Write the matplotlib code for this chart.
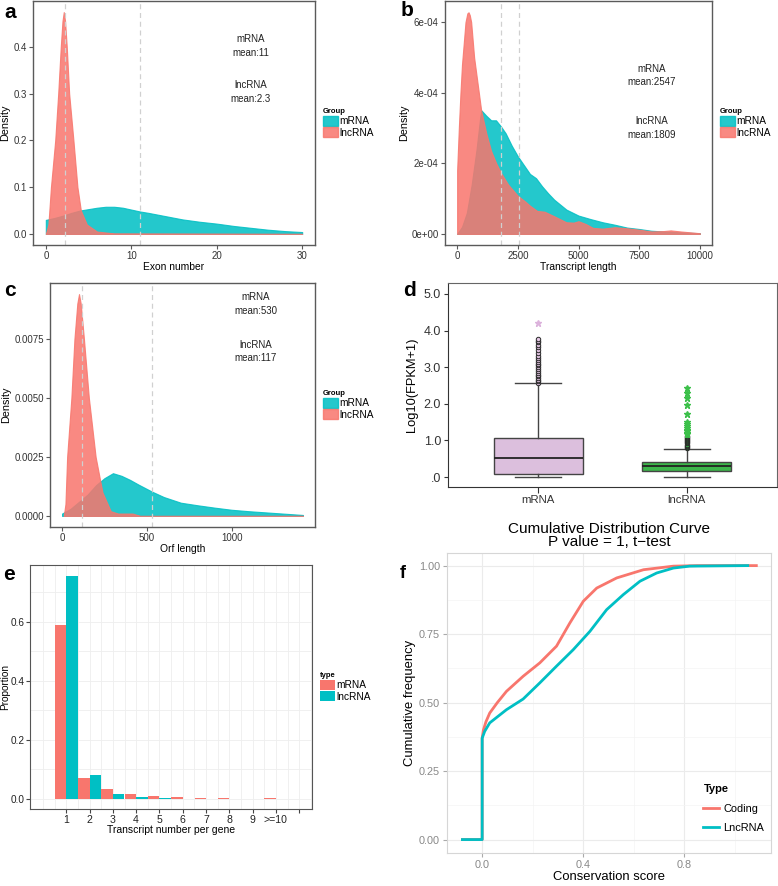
import matplotlib
matplotlib.use("Agg")
import matplotlib.pyplot as plt
from matplotlib.patches import Patch

plt.rcParams['font.family'] = ['Liberation Sans', 'DejaVu Sans']

RED = '#F8766D'
TEAL = '#00BFC4'

# ---- a: exon number density ----
exon_x_mrna = [0, 1, 2, 3, 4, 5, 6, 7, 8, 9, 10, 11, 12, 14, 16, 18, 20, 22, 24, 26, 28, 30]
exon_d_mrna = [0.030, 0.034, 0.039, 0.045, 0.050, 0.053, 0.056, 0.058, 0.058, 0.056, 0.052, 0.048, 0.045,
               0.038, 0.031, 0.026, 0.022, 0.017, 0.013, 0.009, 0.006, 0.004]
exon_x_lnc = [0, 0.3, 0.6, 0.85, 1.1, 1.45, 1.75, 1.95, 2.1, 2.25, 2.45, 2.73, 3.23, 3.7, 4.1, 4.8, 6.0, 8.0, 30]
exon_d_lnc = [0.0, 0.02, 0.10, 0.15, 0.20, 0.30, 0.40, 0.455, 0.474, 0.455, 0.40, 0.30, 0.20, 0.10, 0.05,
              0.02, 0.005, 0.001, 0.0]
exon_means = [11, 2.3]

# ---- b: transcript length density ----
len_x_mrna = [0, 200, 400, 600, 800, 950, 1000, 1200, 1400, 1600, 1800, 2000, 2250, 2500, 2750, 3000, 3250,
              3500, 3750, 4000, 4500, 5000, 5500, 6000, 6500, 7000, 7500, 8000, 9000, 10000]
len_d_mrna = [0, 0.2e-4, 0.6e-4, 1.4e-4, 2.4e-4, 3.3e-4, 3.5e-4, 3.35e-4, 3.22e-4, 3.22e-4, 3.05e-4, 2.85e-4,
              2.5e-4, 2.2e-4, 1.95e-4, 1.7e-4, 1.58e-4, 1.35e-4, 1.15e-4, 0.97e-4, 0.69e-4, 0.52e-4, 0.42e-4,
              0.33e-4, 0.26e-4, 0.18e-4, 0.14e-4, 0.09e-4, 0.05e-4, 0.02e-4]
len_x_lnc = [0, 70, 137, 200, 344, 420, 470, 520, 578, 700, 894, 990, 1200, 1400, 1610, 1815, 2100, 2500, 2800,
             3000, 3300, 3600, 4000, 4500, 4800, 5000, 5300, 5600, 6000, 6500, 7000, 7500, 8000, 8500, 8800,
             9200, 10000]
len_d_lnc = [1.8e-4, 3.0e-4, 4.0e-4, 4.8e-4, 6.0e-4, 6.25e-4, 6.28e-4, 6.2e-4, 6.0e-4, 5.0e-4, 4.0e-4, 3.5e-4,
             2.85e-4, 2.35e-4, 2.0e-4, 1.72e-4, 1.4e-4, 1.08e-4, 0.92e-4, 0.8e-4, 0.65e-4, 0.63e-4, 0.5e-4,
             0.33e-4, 0.32e-4, 0.36e-4, 0.28e-4, 0.17e-4, 0.15e-4, 0.19e-4, 0.16e-4, 0.12e-4, 0.07e-4, 0.08e-4,
             0.1e-4, 0.07e-4, 0.02e-4]
len_means = [2547, 1809]

# ---- c: orf length density ----
orf_x_mrna = [0, 50, 100, 150, 200, 250, 300, 350, 400, 450, 530, 600, 700, 800, 900, 1000, 1100, 1200, 1300, 1420]
orf_d_mrna = [0.0001, 0.0003, 0.0006, 0.0009, 0.0013, 0.0016, 0.00181, 0.0017, 0.00153, 0.00133, 0.00103,
              0.0008, 0.00056, 0.00045, 0.00035, 0.00026, 0.0002, 0.00015, 0.0001, 0.00004]
orf_x_lnc = [10, 20, 30, 45, 55, 73, 90, 100, 110, 129, 158, 198, 238, 287, 330, 416, 460, 1420]
orf_d_lnc = [0.0, 0.0005, 0.0025, 0.004, 0.005, 0.0075, 0.009, 0.0094, 0.009, 0.0075, 0.005, 0.0025, 0.001,
             0.0002, 0.0001, 0.0001, 0.0, 0.0]
orf_means = [530, 117]

# ---- d: expression boxplot ----
box_labels = ['mRNA', 'lncRNA']
box_lo = [0.0, 0.0]
box_q1 = [0.08, 0.18]
box_med = [0.53, 0.29]
box_q3 = [1.07, 0.42]
box_hi = [2.57, 0.78]
mrna_out_circ = [2.58, 2.62, 2.66, 2.70, 2.75, 2.80, 2.85, 2.90, 2.95, 3.00, 3.05, 3.10, 3.15, 3.20, 3.26,
                 3.32, 3.40, 3.48, 3.55, 3.62, 3.68, 3.73, 3.78]
mrna_out_star = [4.22]
lnc_out_circ = [0.80, 0.83, 0.86, 0.89, 0.92, 0.95, 0.98, 1.01, 1.04, 1.07, 1.10, 1.13]
lnc_out_star = [1.17, 1.21, 1.25, 1.29, 1.34, 1.40, 1.46, 1.51, 1.72, 1.98, 2.17, 2.30, 2.43]

# ---- e: transcripts per gene ----
tx_labels = ['1', '2', '3', '4', '5', '6', '7', '8', '9', '>=10', '']
tx_mrna = [0.59, 0.072, 0.033, 0.016, 0.009, 0.005, 0.003, 0.002, 0.0015, 0.002, 0]
tx_lnc = [0.756, 0.082, 0.017, 0.007, 0.003, 0.001, 0.0005, 0.0004, 0.0003, 0.0004, 0]

# ---- f: conservation CDF ----
cons_x_coding = [-0.078, 0.0, 0.0, 0.005, 0.015, 0.030, 0.060, 0.096, 0.162, 0.228, 0.294, 0.347, 0.40,
                 0.453, 0.532, 0.638, 0.756, 0.85, 1.084]
cons_y_coding = [0, 0, 0.37, 0.40, 0.43, 0.462, 0.50, 0.541, 0.596, 0.645, 0.706, 0.791, 0.870, 0.918, 0.955,
                 0.985, 0.998, 1.0, 1.0]
cons_x_lnc = [-0.078, 0.0, 0.0, 0.01, 0.03, 0.096, 0.162, 0.228, 0.294, 0.36, 0.426, 0.492, 0.558, 0.624,
              0.69, 0.756, 0.82, 1.05]
cons_y_lnc = [0, 0, 0.37, 0.395, 0.426, 0.474, 0.513, 0.572, 0.633, 0.693, 0.760, 0.839, 0.894, 0.943, 0.973,
              0.991, 0.998, 1.0]

W, H = 778, 886
fig = plt.figure(figsize=(W / 100, H / 100), dpi=100)


def rect(l, t, r, b):
    return [l / W, 1 - b / H, (r - l) / W, (b - t) / H]


def density_panel(pos, x_m, d_m, x_l, d_l, means, xlabel, xlim, ylim, xticks, yticks, yfmt, notes):
    ax = fig.add_axes(rect(*pos))
    ax.fill_between(x_m, d_m, color=TEAL, alpha=0.86, lw=0.8, edgecolor=TEAL)
    ax.fill_between(x_l, d_l, color=RED, alpha=0.86, lw=0.8, edgecolor=RED)
    for m in means:
        ax.axvline(m, color='#d0d0d0', ls=(0, (4, 3)), lw=0.9)
    ax.set_xlim(*xlim)
    ax.set_ylim(*ylim)
    ax.set_xticks(xticks)
    ax.set_yticks(yticks)
    ax.set_yticklabels([yfmt(v) for v in yticks])
    for s in ax.spines.values():
        s.set_color('#5a5a5a')
        s.set_linewidth(1.0)
    ax.tick_params(colors='#5a5a5a', labelcolor='#333333', labelsize=7, length=3, width=0.8, pad=1.5)
    ax.set_xlabel(xlabel, fontsize=7.4, labelpad=0.5)
    ax.set_ylabel('Density', fontsize=7.8, labelpad=2)
    for tx, ty, s in notes:
        ax.text(tx, ty, s, fontsize=7, ha='center', va='center', color='#222222')
    handles = [Patch(facecolor=TEAL, edgecolor=TEAL, alpha=0.86), Patch(facecolor=RED, edgecolor=RED, alpha=0.86)]
    ax.legend(handles, ['mRNA', 'lncRNA'], title='Group', loc='center left', bbox_to_anchor=(1.01, 0.5),
              frameon=False, fontsize=7.3, handlelength=1.5, handleheight=1.2, borderpad=0,
              labelspacing=0.05, handletextpad=0.15, alignment='left',
              title_fontproperties={'weight': 'bold', 'size': 5.5})
    return ax


density_panel((33, 1, 315, 245), exon_x_mrna, exon_d_mrna, exon_x_lnc, exon_d_lnc, exon_means,
              'Exon number', (-1.5, 31.5), (-0.0237, 0.4977), [0, 10, 20, 30], [0.0, 0.1, 0.2, 0.3, 0.4],
              lambda v: f'{v:.1f}',
              [(24, 0.417, 'mRNA'), (24, 0.387, 'mean:11'), (24, 0.318, 'lncRNA'), (24, 0.288, 'mean:2.3')])

density_panel((445, 1, 712, 245), len_x_mrna, len_d_mrna, len_x_lnc, len_d_lnc, len_means,
              'Transcript length', (-500, 10500), (-0.314e-4, 6.6e-4), [0, 2500, 5000, 7500, 10000],
              [0, 2e-4, 4e-4, 6e-4], lambda v: f'{v:.0e}' if v else '0e+00',
              [(8000, 4.68e-4, 'mRNA'), (8000, 4.31e-4, 'mean:2547'), (8000, 3.2e-4, 'lncRNA'),
               (8000, 2.8e-4, 'mean:1809')])

density_panel((50, 283, 315, 527), orf_x_mrna, orf_d_mrna, orf_x_lnc, orf_d_lnc, orf_means,
              'Orf length', (-71, 1491), (-0.00047, 0.00987), [0, 500, 1000],
              [0.0, 0.0025, 0.005, 0.0075], lambda v: f'{v:.4f}',
              [(1143, 0.00927, 'mRNA'), (1143, 0.0087, 'mean:530'), (1143, 0.00726, 'lncRNA'),
               (1143, 0.0067, 'mean:117')])

# ---- d ----
axd = fig.add_axes(rect(448, 283, 777, 487))
stats = []
for i in range(2):
    stats.append(dict(label=box_labels[i], whislo=box_lo[i], q1=box_q1[i], med=box_med[i],
                      q3=box_q3[i], whishi=box_hi[i], fliers=[]))
bp = axd.bxp(stats, positions=[1, 2], widths=0.6, capwidths=0.31, patch_artist=True, showfliers=False,
             boxprops=dict(edgecolor='#444444', linewidth=1.0),
             medianprops=dict(color='#222222', linewidth=1.3),
             whiskerprops=dict(color='#444444', linewidth=1.0),
             capprops=dict(color='#444444', linewidth=1.0))
bp['boxes'][0].set_facecolor('#dcbfdd')
bp['boxes'][1].set_facecolor('#3cb54a')
axd.plot([1] * len(mrna_out_circ), mrna_out_circ, 'o', ms=3.2, mfc='#e5c6e5', mec='#2a2a2a', mew=0.7)
axd.plot([1] * len(mrna_out_star), mrna_out_star, '*', ms=5, color='#dcb3dc')
axd.plot([2] * len(lnc_out_circ), lnc_out_circ, 'o', ms=3.2, mfc='#3cb54a', mec='#2a2a2a', mew=0.7)
axd.plot([2] * len(lnc_out_star), lnc_out_star, '*', ms=5, color='#3cc04a')
axd.set_xlim(0.39, 2.61)
axd.set_ylim(-0.27, 5.3)
axd.set_yticks([0, 1, 2, 3, 4, 5])
axd.set_yticklabels(['.0', '1.0', '2.0', '3.0', '4.0', '5.0'])
axd.set_xticks([1, 2])
axd.set_xticklabels(box_labels)
for s in axd.spines.values():
    s.set_color('#666666')
axd.spines['left'].set_color('#333333')
axd.spines['bottom'].set_color('#333333')
axd.tick_params(axis='y', labelsize=9, length=3, colors='#333333', pad=2)
axd.tick_params(axis='x', labelsize=8.2, length=4, colors='#333333', pad=2)
axd.set_ylabel('Log10(FPKM+1)', fontsize=9.3, labelpad=4)

# ---- e ----
axe = fig.add_axes(rect(30, 565, 312, 809))
pos = list(range(1, len(tx_labels) + 1))
axe.bar([p - 0.245 for p in pos], tx_mrna, width=0.49, color=RED, label='mRNA', zorder=2)
axe.bar([p + 0.245 for p in pos], tx_lnc, width=0.49, color=TEAL, label='lncRNA', zorder=2)
axe.set_xlim(-0.56, 11.55)
axe.set_ylim(-0.034, 0.793)
axe.set_xticks(pos)
axe.set_xticklabels(tx_labels)
axe.set_xticks([v * 0.5 for v in range(0, 24)], minor=True)
axe.set_yticks([0.0, 0.2, 0.4, 0.6])
axe.set_yticks([0.1, 0.3, 0.5, 0.7], minor=True)
axe.grid(True, which='both', color='#eeeeee', lw=0.6, zorder=0)
axe.tick_params(which='minor', length=0)
axe.tick_params(axis='y', labelsize=7.2, length=3, colors='#444444', labelcolor='#222222', pad=1)
axe.tick_params(axis='x', which='major', labelsize=7.6, length=3, colors='#444444', labelcolor='#222222', pad=1)
for s in axe.spines.values():
    s.set_color('#555555')
axe.set_xlabel('Transcript number per gene', fontsize=7.5, labelpad=0)
axe.set_ylabel('Proportion', fontsize=7.2)
axe.yaxis.set_label_coords(-0.072, 0.5)
axe.legend(title='type', loc='center left', bbox_to_anchor=(1.01, 0.5), frameon=False, fontsize=7.3,
           handlelength=1.5, handleheight=1.2, borderpad=0, labelspacing=0.05, handletextpad=0.15,
           alignment='left', title_fontproperties={'weight': 'bold', 'size': 5.5})

# ---- f ----
axf = fig.add_axes(rect(447, 553, 771, 853))
axf.plot(cons_x_coding, cons_y_coding, color=RED, lw=2.0, label='Coding', zorder=3)
axf.plot(cons_x_lnc, cons_y_lnc, color=TEAL, lw=2.0, label='LncRNA', zorder=4)
axf.set_xlim(-0.139, 1.142)
axf.set_ylim(-0.049, 1.046)
axf.set_xticks([0.0, 0.4, 0.8])
axf.set_xticklabels(['0.0', '0.4', '0.8'])
axf.set_xticks([0.2, 0.6, 1.0], minor=True)
axf.set_yticks([0, 0.25, 0.5, 0.75, 1.0])
axf.set_yticklabels(['0.00', '0.25', '0.50', '0.75', '1.00'])
axf.set_yticks([0.125, 0.375, 0.625, 0.875], minor=True)
axf.grid(True, which='major', color='#ebebeb', lw=0.8, zorder=0)
axf.grid(True, which='minor', color='#f4f4f4', lw=0.5, zorder=0)
axf.tick_params(which='minor', length=0)
axf.tick_params(which='major', labelsize=7.8, length=3, colors='#aaaaaa', labelcolor='#888888', pad=2)
for s in axf.spines.values():
    s.set_color('#d6d6d6')
axf.set_xlabel('Conservation score', fontsize=9.4, labelpad=1)
axf.set_ylabel('Cumulative frequency', fontsize=9.4, labelpad=2)
axf.set_title('Cumulative Distribution Curve\nP value = 1, t\u2212test', fontsize=11, linespacing=0.95, pad=5)
axf.legend(title='Type', loc='upper left', bbox_to_anchor=((698 - 447) / 324, (853 - 779) / 300),
           frameon=False, fontsize=7.9, handlelength=1.4, borderpad=0, labelspacing=0.85, handletextpad=0.4,
           alignment='left', title_fontproperties={'weight': 'bold', 'size': 8})

# panel letters
for lx, ly, s, fs in [(10, 13, 'a', 15), (407, 10, 'b', 15), (10, 290, 'c', 15), (410, 290, 'd', 15),
                      (9, 575, 'e', 15), (403, 573, 'f', 13)]:
    fig.text(lx / W, 1 - ly / H, s, fontsize=fs, fontweight='bold', ha='center', va='center')

fig.savefig('out.png', dpi=100)
